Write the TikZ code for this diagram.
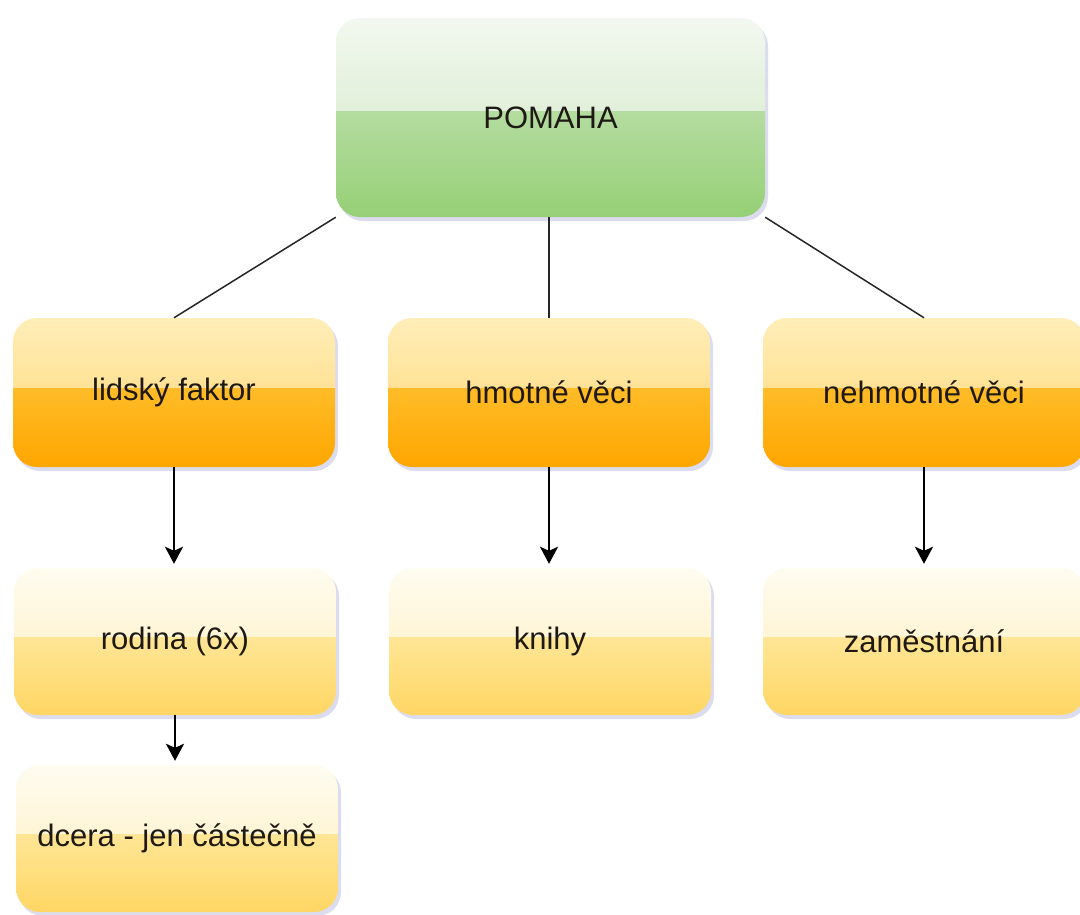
\documentclass[tikz,border=0pt]{standalone}
\usepackage{fontspec}
\setmainfont{Liberation Sans}
\usetikzlibrary{arrows.meta,shadows,calc}
\definecolor{gTop}{RGB}{242,248,239}
\definecolor{gMid}{RGB}{205,230,194}
\definecolor{gMidB}{RGB}{180,220,160}
\definecolor{gBot}{RGB}{150,208,118}
\definecolor{oTop}{RGB}{255,238,185}
\definecolor{oMid}{RGB}{255,212,110}
\definecolor{oMidB}{RGB}{255,188,40}
\definecolor{oBot}{RGB}{255,166,0}
\definecolor{yTop}{RGB}{255,252,240}
\definecolor{yMid}{RGB}{255,238,185}
\definecolor{yMidB}{RGB}{255,230,150}
\definecolor{yBot}{RGB}{255,214,100}
\definecolor{txt}{RGB}{30,25,20}
\begin{document}
\begin{tikzpicture}[x=1pt,y=-1pt,
  glossy/.style n args={4}{path picture={
    \shade[sharp corners,top color=#1,bottom color=#2] (path picture bounding box.north west) rectangle ($(path picture bounding box.north east)!0.47!(path picture bounding box.south east)$);
    \shade[sharp corners,top color=#3,bottom color=#4] ($(path picture bounding box.north west)!0.47!(path picture bounding box.south west)$) rectangle (path picture bounding box.south east);
  }},
  boxbase/.style={rectangle, rounded corners=24pt, inner sep=0pt, text=txt,
    font=\fontsize{31}{37}\selectfont,
    drop shadow={shadow xshift=3pt, shadow yshift=-4pt, fill=black!45!blue!30, opacity=0.45}},
  mainbox/.style={boxbase, glossy={gTop}{gMid}{gMidB}{gBot}, minimum width=429pt, minimum height=199pt},
  catbox/.style={boxbase, glossy={oTop}{oMid}{oMidB}{oBot}, minimum width=322pt, minimum height=149pt},
  itembox/.style={boxbase, glossy={yTop}{yMid}{yMidB}{yBot}, minimum width=322pt, minimum height=147pt},
  link/.style={draw=black!85, line width=1.5pt},
  arr/.style={draw=black, line width=2.5pt, -{Stealth[width=18pt,length=17pt,inset=4pt]}, shorten >=4pt}
]
\useasboundingbox (0,0) rectangle (1080,914);
\fill[white] (0,0) rectangle (1080,914);

\node[mainbox] (pomaha) at (550.5,117.5) {POMAHA};
\node[catbox] (lidsky) at (174,392.5) {lidský faktor};
\node[catbox] (hmotne) at (549,392.5) {hmotné věci};
\node[catbox] (nehmotne) at (924,392.5) {nehmotné věci};
\node[itembox] (rodina) at (175,641.5) {rodina (6x)};
\node[itembox] (knihy) at (550,641.5) {knihy};
\node[itembox] (zam) at (924,641.5) {zaměstnání};
\node[itembox] (dcera) at (177,838.5) {dcera - jen částečně};

\draw[link] (pomaha.south west) -- (lidsky.north);
\draw[link] (pomaha.south -| hmotne.north) -- (hmotne.north);
\draw[link] (pomaha.south east) -- (nehmotne.north);

\draw[arr] (lidsky.south) -- (lidsky.south |- rodina.north);
\draw[arr] (hmotne.south) -- (hmotne.south |- knihy.north);
\draw[arr] (nehmotne.south) -- (nehmotne.south |- zam.north);
\draw[arr] (rodina.south) -- (rodina.south |- dcera.north);
\end{tikzpicture}
\end{document}
